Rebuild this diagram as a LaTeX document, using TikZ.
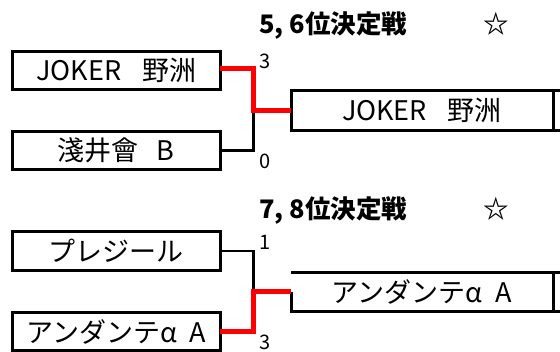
\documentclass[tikz,border=0pt]{standalone}
\usepackage{fontspec}
\setmainfont{Noto Sans CJK JP}
\begin{document}
\begin{tikzpicture}[x=1pt,y=-1pt,
  team/.style={draw=black, line width=3pt, rectangle, inner sep=0pt, outer sep=0pt,
    minimum width=207.5pt, minimum height=38.3pt, font=\fontsize{27}{30}\selectfont},
  result/.style={rectangle, inner sep=0pt, outer sep=0pt,
    minimum width=262pt, minimum height=39.6pt, font=\fontsize{27}{30}\selectfont},
  boxline/.style={line width=3pt, black},
  loser/.style={line width=2.5pt, black},
  winner/.style={line width=5pt, red},
  score/.style={inner sep=0pt, font=\fontsize{20}{24}\selectfont},
  title/.style={inner sep=0pt, anchor=base west, font=\fontsize{25.5}{28}\selectfont\bfseries}]
\useasboundingbox (0,0) rectangle (560,352);
% titles
\node[title] (t1) at (259,33.3) {5, 6位決定戦　　　☆};
\node[title] (t2) at (259,219) {7, 8位決定戦　　　☆};
% first bracket
\node[team] (a) at (116.25,70.5) {JOKER \hspace{0.55em}野洲};
\node[team] (b) at (116.25,150.75) {淺井會 \hspace{0.45em}B};
\node[result] (r1) at (422,110.5) {JOKER \hspace{0.55em}野洲};
\draw[boxline] (r1.south west) -- (r1.north west) -- (r1.north east) -- (r1.south east) -- cycle;
\draw[boxline] (r1.north east) -- ++(9,0);
\draw[boxline] (r1.south east) -- ++(9,0);
\coordinate (m1) at (253.5,110.5);
\draw[loser] (b.east) -| (m1);
\draw[winner] ([yshift=2pt]a.east) -| (m1) -- (r1.west);
\node[score] (s1) at (265.5,61) {3};
\node[score] (s2) at (265.5,161) {0};
% second bracket
\node[team] (c) at (116.25,251.15) {プレジール};
\node[team] (d) at (116.25,331.65) {アンダンテα \hspace{0.25em}A};
\node[result] (r2) at (422,292) {アンダンテα \hspace{0.25em}A};
\draw[boxline] (r2.north west) -- (r2.north east) -- (r2.south east) -- (r2.south west) -- (r2.west);
\draw[boxline] (r2.north east) -- ++(9,0);
\draw[boxline] (r2.south east) -- ++(9,0);
\coordinate (m2) at (253.5,292);
\draw[loser] (c.east) -| (m2);
\draw[winner] (d.east) -| (m2) -- (r2.west);
\node[score] (s3) at (265.5,242) {1};
\node[score] (s4) at (265.5,342.5) {3};
\end{tikzpicture}
\end{document}
